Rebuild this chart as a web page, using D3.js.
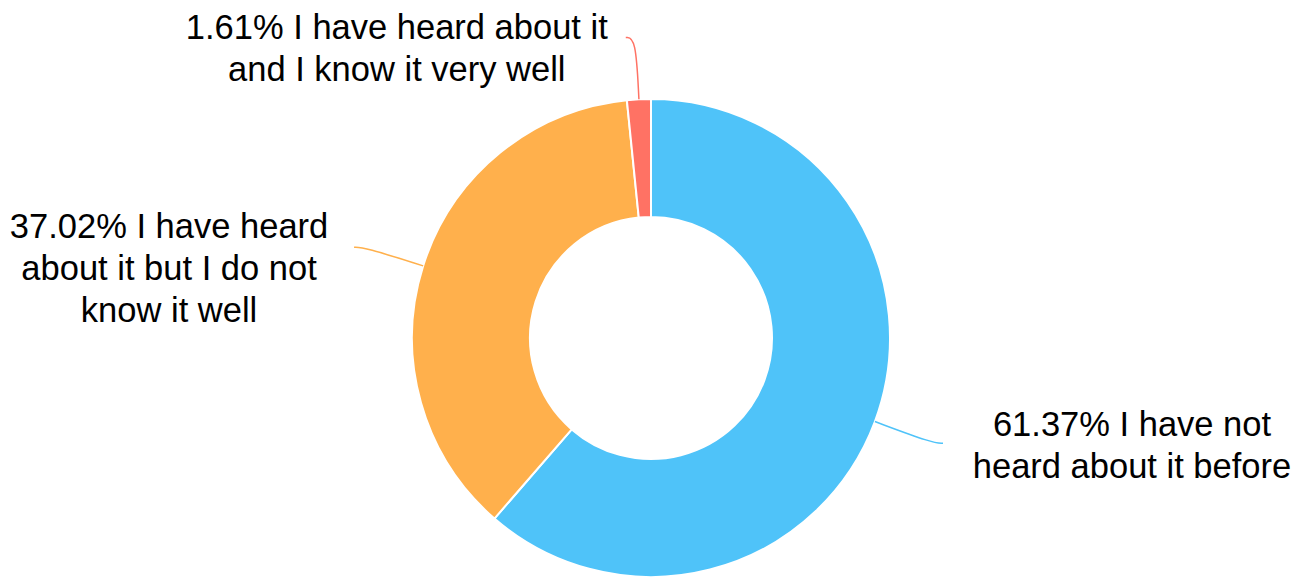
<!DOCTYPE html>
<html>
<head>
<meta charset="utf-8">
<script src="https://cdn.jsdelivr.net/npm/d3@7/dist/d3.min.js"></script>
<style>
  html, body { margin: 0; padding: 0; background: #fff; }
  svg { display: block; }
  text { font-family: "Liberation Sans", Arial, Helvetica, sans-serif; fill: #000; }
</style>
</head>
<body>
<svg id="chart" width="1311" height="579"></svg>
<script>
const categories = [
  "I have not heard about it before",
  "I have heard about it but I do not know it well",
  "I have heard about it and I know it very well"
];
const values = [61.37, 37.02, 1.61];
const colors = ["#4fc3f9", "#ffb04c", "#ff7264"];
const labelLines = [
  ["61.37% I have not", "heard about it before"],
  ["37.02% I have heard", "about it but I do not", "know it well"],
  ["1.61% I have heard about it", "and I know it very well"]
];

const W = 1311, H = 579;
const cx = 651, cy = 338, rOuter = 239, rInner = 121;
// label layout: block center offsets from line end
const labelLayout = [
  { dx: 189, dy: 2 },
  { dx: -185, dy: 21 },
  { dx: -229, dy: 11 }
];

const svg = d3.select("#chart");
const g = svg.append("g").attr("transform", `translate(${cx},${cy})`);

const data = values.map((v, i) => ({ name: categories[i], value: v, i }));
const pie = d3.pie().value(d => d.value).sort(null).startAngle(0).endAngle(2 * Math.PI);
const arcs = pie(data);
const arc = d3.arc().innerRadius(rInner).outerRadius(rOuter);

g.selectAll("path.slice").data(arcs).join("path")
  .attr("class", "slice")
  .attr("d", arc)
  .attr("fill", d => colors[d.data.i])
  .attr("stroke", "#fff")
  .attr("stroke-width", 2)
  .attr("stroke-linejoin", "round");

const len1 = 62, len2 = 10;
const lineGen = d3.line().curve(d3.curveBasis);

arcs.forEach(a => {
  const mid = (a.startAngle + a.endAngle) / 2;
  const ux = Math.sin(mid), uy = -Math.cos(mid);
  const A = [ux * rOuter, uy * rOuter];
  const B = [ux * (rOuter + len1), uy * (rOuter + len1)];
  const side = ux >= 0 ? 1 : -1;
  const C = [B[0] + side * len2, B[1]];
  g.append("path")
    .attr("d", lineGen([A, B, C]))
    .attr("fill", "none")
    .attr("stroke", colors[a.data.i])
    .attr("stroke-width", 1.5);

  const lay = labelLayout[a.data.i];
  const lines = labelLines[a.data.i];
  const lh = 42;
  const bx = C[0] + lay.dx;
  const by = C[1] + lay.dy;
  const t = g.append("text")
    .attr("text-anchor", "middle")
    .attr("font-size", 34.5);
  lines.forEach((ln, k) => {
    t.append("tspan")
      .attr("x", bx)
      .attr("y", by + (k - (lines.length - 1) / 2) * lh)
      .attr("dy", "0.35em")
      .text(ln);
  });
});
</script>
</body>
</html>
